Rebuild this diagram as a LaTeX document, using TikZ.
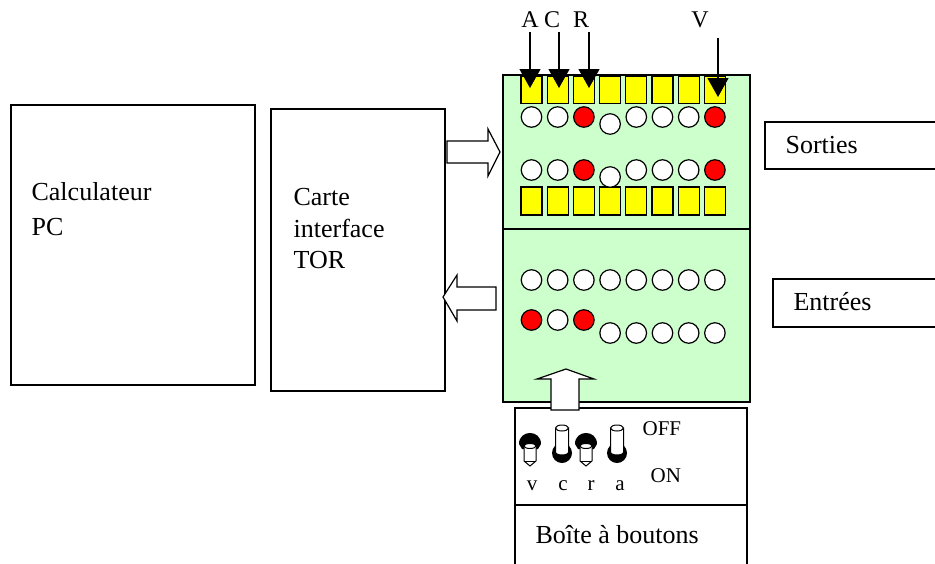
\documentclass[tikz,border=0pt]{standalone}
\usepackage{fontspec}
\setmainfont{Liberation Serif}
\usetikzlibrary{arrows.meta}
\definecolor{panelgreen}{HTML}{CCFFCC}
\definecolor{ledred}{HTML}{FF0000}
\definecolor{ledyellow}{HTML}{FFFF00}
\begin{document}
\begin{tikzpicture}[x=1pt,y=-1pt,line width=1.2pt,
  box/.style={draw,line width=1.2pt,inner sep=0pt},
  big/.style={font=\fontsize{26}{30}\selectfont,anchor=base west,inner sep=0pt},
  small/.style={font=\fontsize{21}{25}\selectfont,anchor=base west,inner sep=0pt},
  toplbl/.style={font=\fontsize{24}{28}\selectfont,anchor=base,inner sep=0pt},
  ybox/.style={draw,fill=ledyellow,line width=1.2pt,inner sep=0pt,minimum width=21pt,minimum height=27pt},
  led/.style={draw,circle,line width=1.2pt,inner sep=0pt,minimum size=20.5pt,fill=white},
  redled/.style={led,fill=ledred},
  blockarrow/.style={draw,fill=white,line width=1.2pt,line join=miter},
  downarrow/.style={line width=1.2pt,-{Triangle[width=21pt,length=19pt]}}]
\useasboundingbox (0,0) rectangle (935,563);
\clip (0,0) rectangle (935,563);

% left boxes
\node[box,minimum width=244pt,minimum height=280pt] (pc) at (133,245) {};
\node[big] (pc1) at (31,200) {Calculateur};
\node[big] (pc2) at (31,235) {PC};
\node[box,minimum width=174pt,minimum height=282pt] (carte) at (358,250) {};
\node[big] (ct1) at (293,205) {Carte};
\node[big] (ct2) at (293,237) {interface};
\node[big] (ct3) at (293,268) {TOR};

% green panel
\node[box,fill=panelgreen,minimum width=247pt,minimum height=154pt] (sortiesp) at (626.5,152) {};
\node[box,fill=panelgreen,minimum width=247pt,minimum height=173pt] (entreesp) at (626.5,315.5) {};

% outputs: yellow boxes and leds
\foreach \i in {0,...,7}{
  \pgfmathsetmacro{\cx}{531.5+26.2*\i}
  \node[ybox] (yt\i) at (\cx,90) {};
  \node[ybox,minimum height=28pt] (yb\i) at (\cx,201) {};
}
\foreach \i/\st in {0/led,1/led,2/redled,3/led,4/led,5/led,6/led,7/redled}{
  \pgfmathsetmacro{\cx}{531.5+26.2*\i}
  \pgfmathsetmacro{\dy}{ifthenelse(\i==3,7,0)}
  \node[\st] (oa\i) at (\cx,117+\dy) {};
  \node[\st] (ob\i) at (\cx,170+\dy) {};
}

% inputs leds
\foreach \i in {0,...,7}{
  \pgfmathsetmacro{\cx}{531.5+26.2*\i}
  \node[led] (ia\i) at (\cx,280) {};
}
\foreach \i/\st in {0/redled,1/led,2/redled}{
  \pgfmathsetmacro{\cx}{531.5+26.2*\i}
  \node[\st] (ib\i) at (\cx,320) {};
}
\foreach \i in {3,...,7}{
  \pgfmathsetmacro{\cx}{531.5+26.2*\i}
  \node[led] (ib\i) at (\cx,333) {};
}

% top labels and arrows
\node[toplbl] (la) at (530,27) {A};
\node[toplbl] (lc) at (552,27) {C};
\node[toplbl] (lr) at (581,27) {R};
\node[toplbl] (lv) at (700,27) {V};
\coordinate (sa) at (530,32); \coordinate (ea) at (530,88);
\coordinate (sc) at (559,32); \coordinate (ec) at (559,88);
\coordinate (sr) at (589,32); \coordinate (er) at (589,88);
\coordinate (sv) at (718,38); \coordinate (ev) at (718,97);
\draw[downarrow] (sa) -- (ea);
\draw[downarrow] (sc) -- (ec);
\draw[downarrow] (sr) -- (er);
\draw[downarrow] (sv) -- (ev);

% block arrows
\draw[blockarrow] (447,141) -- (488,141) -- (488,129) -- (500,152) -- (488,176) -- (488,163) -- (447,163) -- cycle;
\draw[blockarrow] (496,287) -- (457,287) -- (457,275) -- (443,297) -- (457,321) -- (457,310) -- (496,310) -- cycle;

% side labels
\node[box,minimum width=180pt,minimum height=47pt] (sorties) at (855,145.5) {};
\node[big] (sortiest) at (785,153) {Sorties};
\node[box,minimum width=172pt,minimum height=48pt] (entrees) at (859,303) {};
\node[big] (entreest) at (793,310) {Entrées};

% button box
\node[box,minimum width=232pt,minimum height=97pt] (btn) at (631,456.5) {};
\node[box,minimum width=232pt,minimum height=62pt] (btnlbl) at (631,536) {};
\node[big] (btnt) at (535,543) {Boîte à boutons};

% up arrow
\draw[blockarrow] (551,410) -- (551,379) -- (537,379) -- (566,369) -- (594,379) -- (579,379) -- (579,410) -- cycle;

% switches: down (ON) at v and r
\foreach \cx in {530,586}{
  \fill (\cx-11,444) .. controls (\cx-11,429.3) and (\cx+11,429.3) .. (\cx+11,444) -- (\cx+8,449) -- (\cx-8,449) -- cycle;
  \draw[fill=white,line width=1pt] (\cx-6,446) -- (\cx-6,461) -- (\cx,466) -- (\cx+6,461) -- (\cx+6,446) -- cycle;
  \draw[line width=1pt] (\cx-6,461) -- (\cx+6,461);
  \draw[fill=white,line width=1pt] (\cx,446) ellipse[x radius=6,y radius=2.5];
}
% switches: up (OFF) at c and a
\foreach \cx in {562,617}{
  \fill (\cx,453) circle[radius=10];
  \draw[fill=white,line width=1pt] (\cx-6.5,428) -- (\cx-6.5,452) .. controls (\cx-6.5,456) and (\cx+6.5,456) .. (\cx+6.5,452) -- (\cx+6.5,428) -- cycle;
  \draw[fill=white,line width=1pt] (\cx,428) ellipse[x radius=6.5,y radius=3];
}
\node[small,anchor=base] (sv1) at (532,490) {v};
\node[small,anchor=base] (sc1) at (563,490) {c};
\node[small,anchor=base] (sr1) at (591,490) {r};
\node[small,anchor=base] (sa1) at (620,490) {a};
\node[small] (off) at (642,435) {OFF};
\node[small] (on) at (650,482) {ON};
\end{tikzpicture}
\end{document}
